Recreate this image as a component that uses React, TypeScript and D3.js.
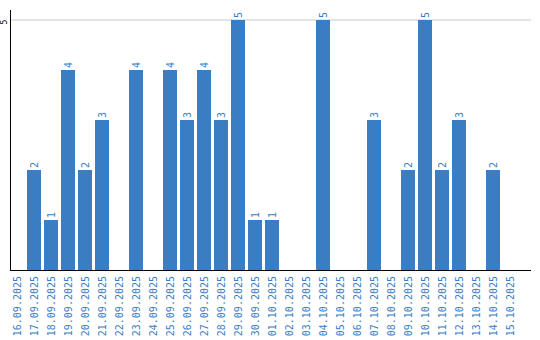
import React from "react";
import * as d3 from "d3";

const categories = [
  "16.09.2025","17.09.2025","18.09.2025","19.09.2025","20.09.2025","21.09.2025","22.09.2025","23.09.2025","24.09.2025","25.09.2025",
  "26.09.2025","27.09.2025","28.09.2025","29.09.2025","30.09.2025","01.10.2025","02.10.2025","03.10.2025","04.10.2025","05.10.2025",
  "06.10.2025","07.10.2025","08.10.2025","09.10.2025","10.10.2025","11.10.2025","12.10.2025","13.10.2025","14.10.2025","15.10.2025",
];
const values = [0,2,1,4,2,3,0,4,0,4,3,4,3,5,1,1,0,0,5,0,0,3,0,2,5,2,3,0,2,0];
const yTicks = [5];

const W = 540, H = 340;
const BLUE = "#3b7dc2";

export default function App() {
  const x = d3.scaleBand<string>().domain(categories).range([8.5, 518.5]).paddingInner(3 / 17).paddingOuter(1.5 / 17);
  const y = d3.scaleLinear().domain([0, 5]).range([270, 20]);
  const font = "'DejaVu Sans Mono', monospace";
  return (
    <svg width={W} height={H} style={{ position: "absolute", left: 0, top: 0 }}>
      {yTicks.map((t) => (
        <g key={t}>
          <line x1={10} x2={531} y1={y(t)} y2={y(t)} stroke="#c8c8c8" strokeWidth={1} />
          <text transform={`translate(7,${y(t) + 2}) rotate(-90)`} textAnchor="middle" fontFamily={font} fontSize={8} fill="#000">{t}</text>
        </g>
      ))}
      {categories.map((c, i) => {
        const v = values[i];
        const bx = x(c)!;
        const bw = x.bandwidth();
        const cx = bx + bw / 2;
        return (
          <g key={c}>
            {v > 0 && (
              <>
                <rect x={bx} y={y(v)} width={bw} height={y(0) - y(v)} fill={BLUE} />
                <text transform={`translate(${cx + 3.5},${y(v) - 2}) rotate(-90)`} textAnchor="start" fontFamily={font} fontSize={10} fill={BLUE}>{v}</text>
              </>
            )}
            <text transform={`translate(${cx + 3.5},${276}) rotate(-90)`} textAnchor="end" fontFamily={font} fontSize={10} fill={BLUE}>{c}</text>
          </g>
        );
      })}
      <line x1={10.5} x2={10.5} y1={10} y2={270} stroke="#000" strokeWidth={1} />
      <line x1={10} x2={531} y1={270.5} y2={270.5} stroke="#000" strokeWidth={1} />
    </svg>
  );
}
